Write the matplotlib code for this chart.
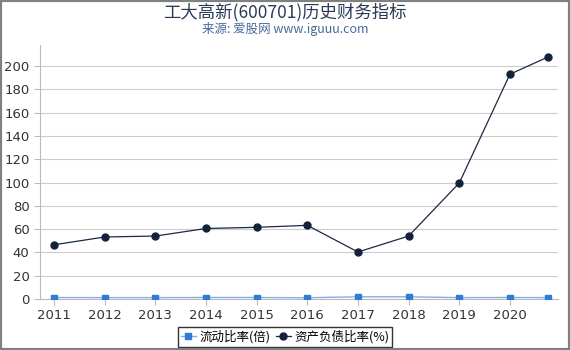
import matplotlib
matplotlib.use("Agg")
import matplotlib.pyplot as plt
from matplotlib.patches import Rectangle

plt.rcParams['font.family'] = ['DejaVu Sans', 'Noto Sans CJK SC']

years = [2011, 2012, 2013, 2014, 2015, 2016, 2017, 2018, 2019, 2020, 2020.75]
tick_years = [2011, 2012, 2013, 2014, 2015, 2016, 2017, 2018, 2019, 2020]
current_ratio = [1.2, 1.1, 1.1, 1.2, 1.2, 1.0, 1.8, 1.8, 1.1, 1.2, 1.1]
debt_ratio = [46.5, 53.2, 54.0, 60.5, 61.5, 63.2, 40.3, 54.0, 99.6, 193.0, 207.8]
yticks = [0, 20, 40, 60, 80, 100, 120, 140, 160, 180, 200]

fig = plt.figure(figsize=(5.7, 3.5), dpi=100)
ax = fig.add_axes([0.070, 0.146, 0.909, 0.725])

ax.plot(years, current_ratio, color='#7fb2ea', lw=1, marker='s', ms=4,
        mfc='#2f7bd6', mec='#2f7bd6', label='流动比率(倍)', zorder=3)
ax.plot(years, debt_ratio, color='#1a2a44', lw=0.9, marker='o', ms=5,
        mfc='#132238', mec='#132238', label='资产负债比率(%)', zorder=4)

ax.set_xlim(2010.72, 2020.95)
ax.set_ylim(0, 218)
ax.set_xticks(tick_years)
ax.set_xticklabels([str(y) for y in tick_years])
ax.set_yticks(yticks)
ax.yaxis.grid(True, color='#cccccc', lw=0.8)
ax.set_axisbelow(True)
for s in ['top', 'right']:
    ax.spines[s].set_visible(False)
ax.spines['left'].set_color('#bbbbbb')
ax.spines['bottom'].set_color('#bbbbbb')
ax.tick_params(axis='both', colors='#bbbbbb', labelcolor='#333333', labelsize=9.5, length=4)

fig.text(0.5, 0.966, '工大高新(600701)历史财务指标', ha='center', va='center',
         fontsize=12.5, color='#2a3a55', family=['Noto Sans CJK SC', 'DejaVu Sans'])
fig.text(0.5, 0.918, '来源: 爱股网 www.iguuu.com', ha='center', va='center',
         fontsize=9, color='#4a6a9a', family=['Noto Sans CJK SC', 'DejaVu Sans'])

leg = fig.legend(loc='center', bbox_to_anchor=(0.5, 0.037), ncol=2, frameon=True,
                 fancybox=False, edgecolor='black', handlelength=1.2,
                 handletextpad=0.3, columnspacing=0.4, borderpad=0.25,
                 prop={'family': ['Noto Sans CJK SC', 'DejaVu Sans'], 'size': 9})
leg.get_frame().set_linewidth(1.0)

fig.patches.append(Rectangle((0, 0), 1, 1, transform=fig.transFigure, fill=False,
                             edgecolor='#808080', lw=3, zorder=10))

fig.savefig('out.png', dpi=100)
